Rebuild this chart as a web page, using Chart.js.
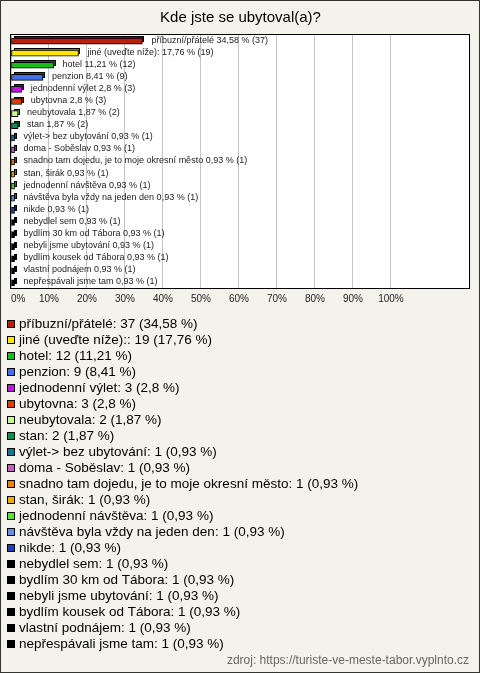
<!DOCTYPE html>
<html>
<head>
<meta charset="utf-8">
<script src="https://cdn.jsdelivr.net/npm/chart.js@4"></script>
<style>
  html, body { margin: 0; padding: 0; background: #f4f3eb; }
  canvas { display: block; }
</style>
</head>
<body>
<canvas id="c" width="480" height="673"></canvas>
<script>
// data
const categories = [
  'příbuzní/přátelé',
  'jiné (uveďte níže):',
  'hotel',
  'penzion',
  'jednodenní výlet',
  'ubytovna',
  'neubytovala',
  'stan',
  'výlet-> bez ubytování',
  'doma - Soběslav',
  'snadno tam dojedu, je to moje okresní město',
  'stan, širák',
  'jednodenní návštěva',
  'návštěva byla vždy na jeden den',
  'nikde',
  'nebydlel sem',
  'bydlím 30 km od Tábora',
  'nebyli jsme ubytování',
  'bydlím kousek od Tábora',
  'vlastní podnájem',
  'nepřespávali jsme tam'
];
const counts = [37, 19, 12, 9, 3, 3, 2, 2, 1, 1, 1, 1, 1, 1, 1, 1, 1, 1, 1, 1, 1];
const percents = [34.58, 17.76, 11.21, 8.41, 2.8, 2.8, 1.87, 1.87, 0.93, 0.93, 0.93, 0.93, 0.93,
  0.93, 0.93, 0.93, 0.93, 0.93, 0.93, 0.93, 0.93];
const colors = ['#c01c0a', '#f8e800', '#14c014', '#4070f0', '#c414e0', '#e03c04', '#c8f890',
  '#109050', '#107890', '#c060c0', '#f08000', '#e8b000', '#50e830', '#6890e0', '#2040b0',
  '#000000', '#000000', '#000000', '#000000', '#000000', '#000000'];
const xTickStep = 10;
const xTickLast = 100;

const source = 'zdroj: https://turiste-ve-meste-tabor.vyplnto.cz';
const FONT = '"Liberation Sans", Arial, sans-serif';

const fmt = v => String(v).replace('.', ',');

function darken(hex) {
  const n = parseInt(hex.slice(1), 16);
  const f = c => Math.round(c * 0.55);
  return `rgb(${f(n >> 16)},${f((n >> 8) & 255)},${f(n & 255)})`;
}

// page background, plot box
const frame = {
  id: 'frame',
  beforeDraw(chart) {
    const { ctx, width, height, chartArea: a } = chart;
    ctx.save();
    ctx.fillStyle = '#f4f3eb';
    ctx.fillRect(0, 0, width, height);
    ctx.strokeStyle = '#333';
    ctx.lineWidth = 1;
    ctx.strokeRect(0.5, 0.5, width - 1, height - 1);
    ctx.fillStyle = '#fff';
    ctx.fillRect(a.left, a.top, a.right - a.left, a.bottom - a.top);
    ctx.restore();
  },
  beforeDatasetsDraw(chart) {
    const { ctx, chartArea: a } = chart;
    ctx.save();
    ctx.strokeStyle = '#000';
    ctx.lineWidth = 1;
    ctx.strokeRect(a.left - 0.5, a.top - 0.5, a.right - a.left, a.bottom - a.top);
    ctx.restore();
  }
};

// fake depth behind each bar + value labels
const bar3d = {
  id: 'bar3d',
  beforeDatasetsDraw(chart) {
    const ctx = chart.ctx;
    const d = 2;
    ctx.save();
    ctx.lineWidth = 1;
    ctx.strokeStyle = '#000';
    chart.getDatasetMeta(0).data.forEach((bar, i) => {
      const p = bar.getProps(['x', 'y', 'base', 'height'], true);
      const x0 = Math.round(p.base), x1 = Math.round(p.x);
      const y0 = Math.round(p.y - p.height / 2);
      const h = Math.round(p.height);
      ctx.fillStyle = darken(colors[i]);
      ctx.fillRect(x0 + d, y0 - d, x1 - x0, h);
      ctx.strokeRect(x0 + d + 0.5, y0 - d + 0.5, x1 - x0 - 1, h - 1);
    });
    ctx.restore();
  },
  afterDatasetsDraw(chart) {
    const ctx = chart.ctx;
    ctx.save();
    ctx.font = '9px ' + FONT;
    ctx.fillStyle = '#222';
    ctx.textBaseline = 'middle';
    chart.getDatasetMeta(0).data.forEach((bar, i) => {
      const text = `${categories[i]} ${fmt(percents[i])} % (${counts[i]})`;
      ctx.fillText(text, bar.x + 9, bar.y - 1);
    });
    ctx.restore();
  }
};

// one-item-per-row legend under the axis, plus source line
const listLegend = {
  id: 'listLegend',
  afterDraw(chart) {
    const ctx = chart.ctx;
    const top = chart.chartArea.bottom + 35;
    const step = 16;
    ctx.save();
    ctx.font = '13.5px ' + FONT;
    ctx.textBaseline = 'middle';
    ctx.lineWidth = 1;
    categories.forEach((cat, i) => {
      const y = Math.round(top + i * step);
      ctx.fillStyle = colors[i];
      ctx.fillRect(7, y - 4, 8, 8);
      ctx.strokeStyle = '#000';
      ctx.strokeRect(7.5, y - 3.5, 7, 7);
      ctx.fillStyle = '#000';
      ctx.fillText(`${cat}: ${counts[i]} (${fmt(percents[i])} %)`, 19, y);
    });
    ctx.font = '12px ' + FONT;
    ctx.fillStyle = '#666';
    ctx.textAlign = 'right';
    ctx.fillText(source, 469, chart.height - 12);
    ctx.restore();
  }
};

new Chart(document.getElementById('c'), {
  type: 'bar',
  data: {
    labels: categories,
    datasets: [{
      data: percents,
      backgroundColor: colors,
      borderColor: '#000',
      borderWidth: 1,
      borderSkipped: false,
      barThickness: 6
    }]
  },
  options: {
    indexAxis: 'y',
    responsive: false,
    animation: false,
    devicePixelRatio: 1,
    layout: { padding: { left: 11, right: 10, top: 0, bottom: 364 } },
    plugins: {
      legend: { display: false },
      tooltip: { enabled: false },
      title: {
        display: true,
        text: 'Kde jste se ubytoval(a)?',
        color: '#000',
        font: { family: FONT, size: 15, weight: 'normal' },
        padding: { top: 9, bottom: 8 }
      }
    },
    scales: {
      x: {
        type: 'linear',
        min: 0,
        max: 120.8,
        border: { display: false },
        grid: {
          drawTicks: false,
          color: c => (c.tick && c.tick.value <= xTickLast ? '#c4c4c4' : 'rgba(0,0,0,0)')
        },
        ticks: {
          stepSize: xTickStep,
          autoSkip: false,
          maxRotation: 0,
          align: 'inner',
          padding: 4,
          color: '#222',
          font: { family: FONT, size: 10 },
          callback: v => (v <= xTickLast ? v + '%' : '')
        }
      },
      y: { display: false }
    }
  },
  plugins: [frame, bar3d, listLegend]
});
</script>
</body>
</html>
